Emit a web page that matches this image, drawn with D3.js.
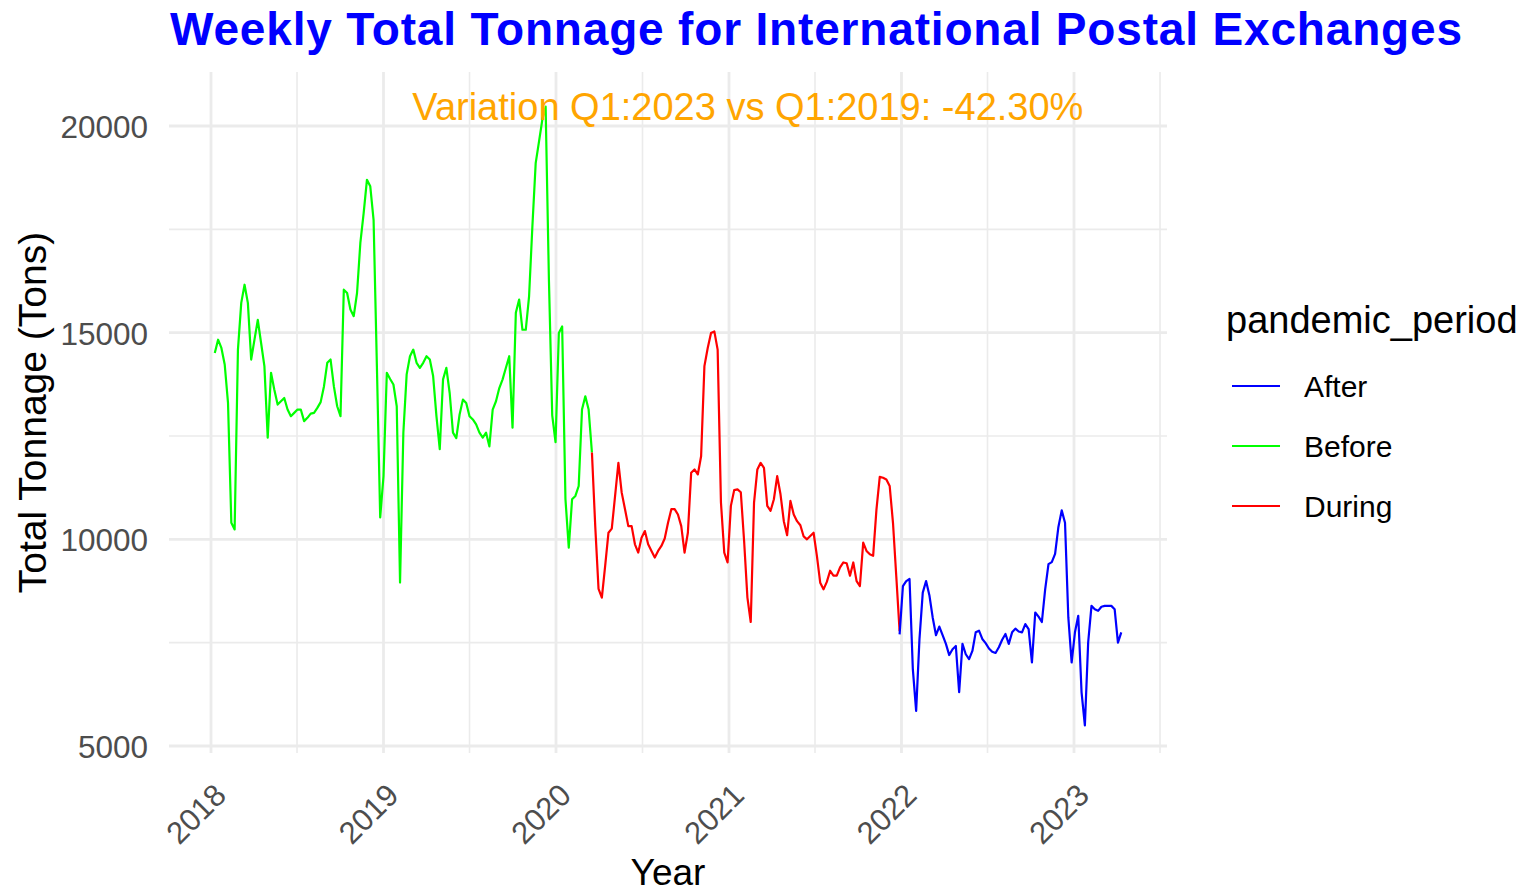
<!DOCTYPE html>
<html>
<head>
<meta charset="utf-8">
<script src="https://cdn.jsdelivr.net/npm/d3@7"></script>
<style>
  html, body { margin: 0; padding: 0; background: #ffffff; }
  svg { display: block; font-family: "Liberation Sans", Arial, sans-serif; }
</style>
</head>
<body>
<svg id="chart" width="1524" height="892"></svg>
<script>
// ---- Data (weekly totals) ----
const beforeStart = "2018-01-09";
const beforeValues = [
  14510, 14830, 14630, 14230, 13300, 10400, 10240, 14590, 15720, 16160,
  15720, 14350, 14830, 15310, 14750, 14190, 12460, 14030, 13620, 13260,
  13340, 13420, 13140, 12980, 13060, 13140, 13140, 12860, 12940, 13040,
  13060, 13180, 13320, 13700, 14270, 14350, 13700, 13220, 12980, 16040,
  15960, 15560, 15400, 15960, 17170, 17890, 18700, 18540, 17730, 14190,
  10530, 11530, 14030, 13880, 13745, 13220, 8955, 12580, 13990, 14430,
  14590, 14270, 14150, 14270, 14430, 14350, 13950, 12980, 12180, 13870,
  14150, 13540, 12580, 12450, 13020, 13380, 13300, 12980, 12900, 12780,
  12580, 12460, 12580, 12250, 13140, 13340, 13660, 13870, 14150, 14430,
  12700, 15480, 15800, 15070, 15070, 15880, 17570, 19100, 19620, 20150,
  20470, 16280, 13000, 12350, 14990, 15150, 10970, 9800, 10970, 11050,
  11290, 13140, 13460, 13140, 12100
];
const duringStart = "2020-03-17";
const duringValues = [
  12100, 10320, 8800, 8590, 9360, 10160, 10260, 11050, 11850, 11130,
  10730, 10320, 10320, 9880, 9680, 10040, 10200, 9880, 9720, 9560,
  9720, 9840, 10020, 10400, 10730, 10730, 10600, 10320, 9680, 10160,
  11610, 11690, 11570, 12010, 14190, 14630, 14990, 15030, 14590, 10890,
  9680, 9440, 10810, 11190, 11210, 11140, 9960, 8590, 8000, 10890,
  11690, 11850, 11730, 10810, 10690, 10970, 11530, 11090, 10440, 10100,
  10930, 10600, 10440, 10340, 10070, 10000, 10080, 10160, 9600, 8950,
  8790, 8970, 9240, 9120, 9120, 9320, 9440, 9420, 9120, 9440,
  8990, 8870, 9920, 9720, 9640, 9600, 10720, 11510, 11490, 11450,
  11290, 10400, 9100, 7780
];
const afterStart = "2021-12-28";
const afterValues = [
  7700, 8870, 8990, 9040, 6860, 5850, 7580, 8710, 8990, 8650,
  8110, 7680, 7890, 7680, 7470, 7200, 7340, 7420, 6300, 7470,
  7220, 7100, 7300, 7750, 7790, 7590, 7490, 7360, 7280, 7250,
  7390, 7570, 7710, 7470, 7750, 7840, 7770, 7750, 7950, 7830,
  7020, 8230, 8130, 8000, 8790, 9400, 9450, 9650, 10300, 10700,
  10400, 8110, 7020, 7750, 8150, 6300, 5500, 7510, 8390, 8310,
  8270, 8370, 8390, 8390, 8390, 8310, 7500, 7750
];

const periods = ["After", "Before", "During"];
const periodColors = ["#0000FF", "#00FF00", "#FF0000"];
const yTicks = [5000, 10000, 15000, 20000];
const yMinorTicks = [7500, 12500, 17500];
const xTickYears = [2018, 2019, 2020, 2021, 2022, 2023];
const xMinorYears = [2018, 2019, 2020, 2021, 2022, 2023];

const titleText = "Weekly Total Tonnage for International Postal Exchanges";
const annotationText = "Variation Q1:2023 vs Q1:2019: -42.30%";
const annotationDate = "2021-02-10";
const xTitle = "Year";
const yTitle = "Total Tonnage (Tons)";
const legendTitle = "pandemic_period";

// ---- Build series ----
const parse = d3.timeParse("%Y-%m-%d");
function buildSeries(start, values, period) {
  const s = parse(start);
  return values.map((v, i) => ({ date: d3.timeDay.offset(s, 7 * i), value: v, period }));
}
const series = [
  { period: "Before", points: buildSeries(beforeStart, beforeValues, "Before") },
  { period: "During", points: buildSeries(duringStart, duringValues, "During") },
  { period: "After", points: buildSeries(afterStart, afterValues, "After") }
];
const allPoints = series.flatMap(s => s.points);

// ---- Layout ----
const panel = { left: 169, right: 1167, top: 72, bottom: 753 };
const svg = d3.select("#chart");

const x = d3.scaleTime()
  .domain([new Date(2018, 0, 1), new Date(2023, 0, 1)])
  .range([211, 1074]);
const y = d3.scaleLinear()
  .domain([5000, 20000])
  .range([746, 126]);
const color = d3.scaleOrdinal().domain(periods).range(periodColors);

// ---- Grid ----
const grid = svg.append("g");
grid.selectAll("line.ymin").data(yMinorTicks).join("line")
  .attr("x1", panel.left).attr("x2", panel.right)
  .attr("y1", d => y(d)).attr("y2", d => y(d))
  .attr("stroke", "#EBEBEB").attr("stroke-width", 1.6);
grid.selectAll("line.xmin").data(xMinorYears).join("line")
  .attr("x1", d => x(new Date(d, 6, 2))).attr("x2", d => x(new Date(d, 6, 2)))
  .attr("y1", panel.top).attr("y2", panel.bottom)
  .attr("stroke", "#EBEBEB").attr("stroke-width", 1.6);
grid.selectAll("line.ymaj").data(yTicks).join("line")
  .attr("x1", panel.left).attr("x2", panel.right)
  .attr("y1", d => y(d)).attr("y2", d => y(d))
  .attr("stroke", "#EBEBEB").attr("stroke-width", 2.8);
grid.selectAll("line.xmaj").data(xTickYears).join("line")
  .attr("x1", d => x(new Date(d, 0, 1))).attr("x2", d => x(new Date(d, 0, 1)))
  .attr("y1", panel.top).attr("y2", panel.bottom)
  .attr("stroke", "#EBEBEB").attr("stroke-width", 2.8);

// ---- Axes labels ----
const yAxis = d3.axisLeft(y).tickValues(yTicks).tickFormat(d3.format("d")).tickSize(0).tickPadding(0);
const yg = svg.append("g").attr("transform", `translate(148,0)`).call(yAxis);
yg.select(".domain").remove();
yg.selectAll("text")
  .attr("fill", "#4D4D4D")
  .attr("font-size", "31.5px")
  .attr("font-family", "Liberation Sans, Arial, sans-serif")
  .attr("dy", "0.36em");

const xAxis = d3.axisBottom(x)
  .tickValues(xTickYears.map(yv => new Date(yv, 0, 1)))
  .tickFormat(d3.timeFormat("%Y"))
  .tickSize(0);
const xg = svg.append("g").call(xAxis);
xg.select(".domain").remove();
xg.selectAll(".tick").attr("transform", null);
xg.selectAll(".tick text")
  .attr("fill", "#4D4D4D")
  .attr("font-size", "31px")
  .attr("font-family", "Liberation Sans, Arial, sans-serif")
  .attr("text-anchor", "end")
  .attr("dy", null)
  .attr("y", null)
  .attr("transform", d => `translate(${x(d) + 17},797) rotate(-45)`);

// ---- Lines ----
const line = d3.line().x(d => x(d.date)).y(d => y(d.value));
svg.append("g").selectAll("path").data(series).join("path")
  .attr("d", d => line(d.points))
  .attr("fill", "none")
  .attr("stroke", d => color(d.period))
  .attr("stroke-width", 2.2)
  .attr("stroke-linejoin", "round");

// ---- Annotation ----
svg.append("text")
  .attr("x", x(parse(annotationDate)))
  .attr("y", y(d3.max(allPoints, d => d.value)))
  .attr("text-anchor", "middle")
  .attr("dy", "0.36em")
  .attr("fill", "#FFA500")
  .attr("font-size", "38px")
  .text(annotationText);

// ---- Titles ----
svg.append("text")
  .attr("x", panel.left + 1).attr("y", 45)
  .attr("fill", "#0000FF")
  .attr("font-size", "46px")
  .attr("font-weight", "bold")
  .attr("textLength", 1292)
  .attr("lengthAdjust", "spacing")
  .text(titleText);

svg.append("text")
  .attr("x", (panel.left + panel.right) / 2).attr("y", 885)
  .attr("text-anchor", "middle")
  .attr("fill", "#000000")
  .attr("font-size", "37px")
  .text(xTitle);

svg.append("text")
  .attr("transform", `translate(46,${(panel.top + panel.bottom) / 2}) rotate(-90)`)
  .attr("text-anchor", "middle")
  .attr("fill", "#000000")
  .attr("font-size", "39px")
  .text(yTitle);

// ---- Legend ----
const legend = svg.append("g");
legend.append("text")
  .attr("x", 1226).attr("y", 333)
  .attr("fill", "#000000")
  .attr("font-size", "38px")
  .text(legendTitle);
const items = legend.selectAll("g.item").data(periods).join("g")
  .attr("transform", (d, i) => `translate(0,${386 + i * 60})`);
items.append("line")
  .attr("x1", 1232).attr("x2", 1280).attr("y1", 0).attr("y2", 0)
  .attr("stroke", d => color(d)).attr("stroke-width", 2.2);
items.append("text")
  .attr("x", 1304).attr("y", 0).attr("dy", "0.36em")
  .attr("fill", "#000000")
  .attr("font-size", "30px")
  .text(d => d);
</script>
</body>
</html>
